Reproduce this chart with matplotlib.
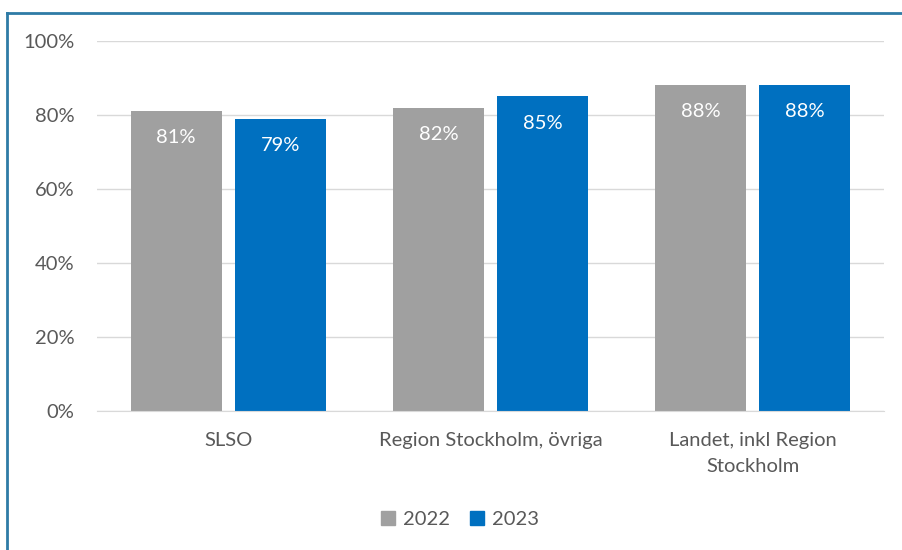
import matplotlib.pyplot as plt
import numpy as np
from matplotlib.patches import Rectangle
from matplotlib.lines import Line2D

categories = ['SLSO', 'Region Stockholm, övriga', 'Landet, inkl Region\nStockholm']
years = ['2022', '2023']
values_2022 = [81, 82, 88]
values_2023 = [79, 85, 88]
colors = ['#A0A0A0', '#0070C0']

plt.rcParams['font.family'] = ['Lato', 'DejaVu Sans']

fig = plt.figure(figsize=(9.02, 5.5), dpi=100)
ax = fig.add_axes([0.1075, 0.2527, 0.8725, 0.6728])

x = np.arange(len(categories))
w = 0.347
off = 0.198
for vals, dx, c, yr in zip([values_2022, values_2023], [-off, off], colors, years):
    bars = ax.bar(x + dx, vals, width=w, color=c, label=yr, zorder=2)
    for b, v in zip(bars, vals):
        ax.annotate(f'{v}%', (b.get_x() + b.get_width() / 2, v),
                    xytext=(0, -13), textcoords='offset points',
                    ha='center', va='top', color='white', fontsize=14.5)

ax.set_xlim(-0.5, 2.5)
ax.set_ylim(0, 100)
ax.set_yticks(range(0, 101, 20))
ax.set_yticklabels([f'{t}%' for t in range(0, 101, 20)])
ax.set_xticks(x)
ax.set_xticklabels(categories, linespacing=1.65)
ax.yaxis.grid(True, color='#D9D9D9', linewidth=1, zorder=0)
for s in ['top', 'right', 'left']:
    ax.spines[s].set_visible(False)
ax.spines['bottom'].set_color('#D9D9D9')
ax.tick_params(axis='both', length=0, colors='#595959', labelsize=14.5)
ax.tick_params(axis='y', pad=16)
ax.tick_params(axis='x', pad=15)

handles = [Rectangle((0, 0), 1, 1, color=c) for c in colors]
fig.legend(handles, years, loc='center', bbox_to_anchor=(0.51, 0.055), ncol=2,
           frameon=False, fontsize=14.5, handlelength=0.7, handleheight=0.7,
           columnspacing=1.0, handletextpad=0.4, labelcolor='#595959')

# outer frame (top and left edges)
fig.add_artist(Line2D([0.0078, 1.0], [0.9764, 0.9764], color='#2E7BA6', linewidth=2))
fig.add_artist(Line2D([0.0078, 0.0078], [0.0, 0.9764], color='#2E7BA6', linewidth=2))

fig.savefig('out.png', dpi=100)
